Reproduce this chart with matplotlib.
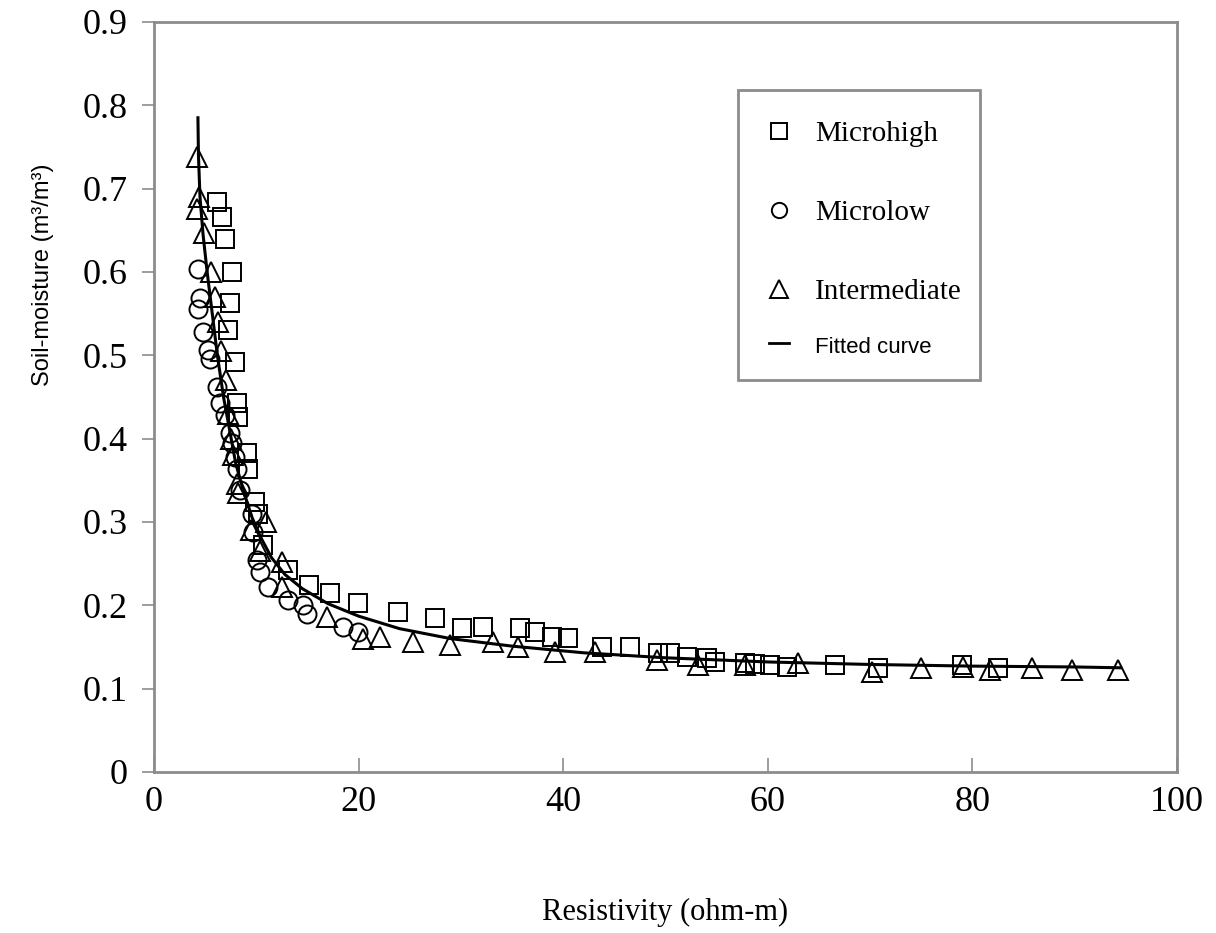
import matplotlib.pyplot as plt
from matplotlib.lines import Line2D
from matplotlib.patches import Rectangle

# Microhigh (squares)
high_x = [6.2, 6.7, 6.9, 7.6, 7.4, 7.2, 7.9, 8.1, 8.2, 9.1, 9.2, 9.9, 10.2, 10.7, 13.1, 15.2,
          17.2, 19.9, 23.9, 27.5, 30.1, 32.2, 35.8, 37.2, 38.9, 40.5, 43.8, 46.5, 49.3, 50.4,
          52.1, 54.1, 54.8, 57.8, 58.8, 60.2, 61.9, 66.6, 70.8, 79.0, 82.5]
high_y = [0.684, 0.666, 0.639, 0.600, 0.563, 0.530, 0.492, 0.443, 0.426, 0.383, 0.363, 0.324,
          0.310, 0.272, 0.242, 0.224, 0.215, 0.203, 0.192, 0.185, 0.173, 0.174, 0.173, 0.168,
          0.162, 0.161, 0.150, 0.150, 0.143, 0.143, 0.138, 0.137, 0.132, 0.131, 0.129, 0.128,
          0.126, 0.128, 0.125, 0.128, 0.125]

# Microlow (circles)
low_x = [4.3, 4.5, 4.3, 4.8, 5.3, 5.5, 6.2, 6.5, 6.9, 7.4, 7.6, 7.9, 8.1, 8.4, 9.6, 9.7,
         10.1, 10.4, 11.1, 13.1, 14.6, 15.0, 18.5, 19.9]
low_y = [0.603, 0.569, 0.555, 0.528, 0.506, 0.495, 0.462, 0.443, 0.428, 0.407, 0.395, 0.378,
         0.363, 0.338, 0.309, 0.288, 0.254, 0.240, 0.222, 0.206, 0.200, 0.190, 0.174, 0.168]

# Intermediate (triangles)
mid_x = [4.2, 4.4, 4.2, 4.9, 5.6, 6.0, 6.3, 6.6, 7.0, 7.2, 7.5, 7.7, 8.1, 8.2, 9.5, 11.0,
         10.4, 12.5, 12.5, 16.9, 20.4, 22.1, 25.3, 28.9, 33.1, 35.6, 39.2, 43.1, 49.2, 53.2,
         57.8, 63.0, 70.2, 75.0, 79.1, 81.7, 85.8, 89.7, 94.2]
mid_y = [0.738, 0.690, 0.675, 0.647, 0.600, 0.570, 0.540, 0.505, 0.470, 0.430, 0.400, 0.380,
         0.345, 0.335, 0.290, 0.300, 0.265, 0.252, 0.222, 0.186, 0.160, 0.162, 0.156, 0.152,
         0.156, 0.150, 0.144, 0.144, 0.134, 0.128, 0.128, 0.131, 0.120, 0.125, 0.126, 0.122,
         0.125, 0.122, 0.122]

# Fitted curve
fit_x = [4.3, 4.35, 4.5, 4.8, 5.2, 5.7, 6.2, 6.8, 7.4, 8.0, 8.8, 9.6, 10.5, 11.5, 12.8,
         14.5, 17.0, 20.0, 24.0, 29.0, 35.0, 42.0, 50.0, 60.0, 70.0, 80.0, 90.0, 94.5]
fit_y = [0.785, 0.740, 0.690, 0.645, 0.600, 0.550, 0.500, 0.450, 0.410, 0.370, 0.335, 0.305,
         0.280, 0.257, 0.237, 0.220, 0.202, 0.187, 0.172, 0.160, 0.151, 0.143, 0.137, 0.132,
         0.129, 0.127, 0.126, 0.125]

grey = '#8c8c8c'
serif = ['Liberation Serif', 'DejaVu Serif']
sans = ['Liberation Sans Narrow', 'Liberation Sans', 'DejaVu Sans']

fig = plt.figure(figsize=(12.16, 9.33), dpi=100)
ax = fig.add_axes([0.1266, 0.1726, 0.8413, 0.8039])

mk = dict(linestyle='none', mfc='none', mec='black', mew=1.4)
ax.plot(fit_x, fit_y, color='black', lw=2.2, zorder=2)
ax.plot(high_x, high_y, marker='s', ms=13, **mk, zorder=3)
ax.plot(low_x, low_y, marker='o', ms=13, **mk, zorder=3)
ax.plot(mid_x, mid_y, marker='^', ms=15, **mk, zorder=3)

ax.set_xlim(0, 100)
ax.set_ylim(0, 0.9)
ax.set_xticks([0, 20, 40, 60, 80, 100])
ax.set_yticks([0, 0.1, 0.2, 0.3, 0.4, 0.5, 0.6, 0.7, 0.8, 0.9])
ax.set_xticklabels(['0', '20', '40', '60', '80', '100'], family=serif, fontsize=26)
ax.set_yticklabels(['0', '0.1', '0.2', '0.3', '0.4', '0.5', '0.6', '0.7', '0.8', '0.9'],
                   family=serif, fontsize=26)
ax.tick_params(axis='x', direction='in', length=10, width=1.2, color=grey, pad=10)
ax.tick_params(axis='y', direction='out', length=9, width=1.2, color=grey, pad=10)
for s in ax.spines.values():
    s.set_color(grey)
    s.set_linewidth(2)

ax.set_xlabel('Resistivity (ohm-m)', family=serif, fontsize=22, va='center')
ax.xaxis.set_label_coords(0.5, -0.187)
ax.set_ylabel('Soil-moisture (m³/m³)', family=sans, fontsize=17, va='center')
ax.yaxis.set_label_coords(-0.108, 0.663)

# legend: three marker rows, then the fitted curve row closer below, one shared frame
leg_kw = dict(frameon=False, labelspacing=1.8, handlelength=0.7, handletextpad=0.9,
              borderpad=1.05, borderaxespad=0, prop={'family': serif, 'size': 21})
marker_handles = [
    Line2D([], [], marker='s', ms=12, **mk),
    Line2D([], [], marker='o', ms=11, **mk),
    Line2D([], [], marker='^', ms=13, **mk),
]
leg1 = ax.legend(marker_handles, ['Microhigh', 'Microlow', 'Intermediate'],
                 loc='upper left', bbox_to_anchor=(0.571, 0.909), **leg_kw)
ax.add_artist(leg1)
leg2 = ax.legend([Line2D([], [], color='black', lw=2)], ['Fitted curve'],
                 loc='center left', bbox_to_anchor=(0.571, 0.569), **leg_kw)
leg2.get_texts()[0].set_fontfamily(['Liberation Sans', 'DejaVu Sans'])
leg2.get_texts()[0].set_fontsize(16)

ax.add_patch(Rectangle((0.571, 0.523), 0.236, 0.386, transform=ax.transAxes,
                       fill=False, edgecolor=grey, lw=2, zorder=4))

fig.savefig('out.png', dpi=100)
